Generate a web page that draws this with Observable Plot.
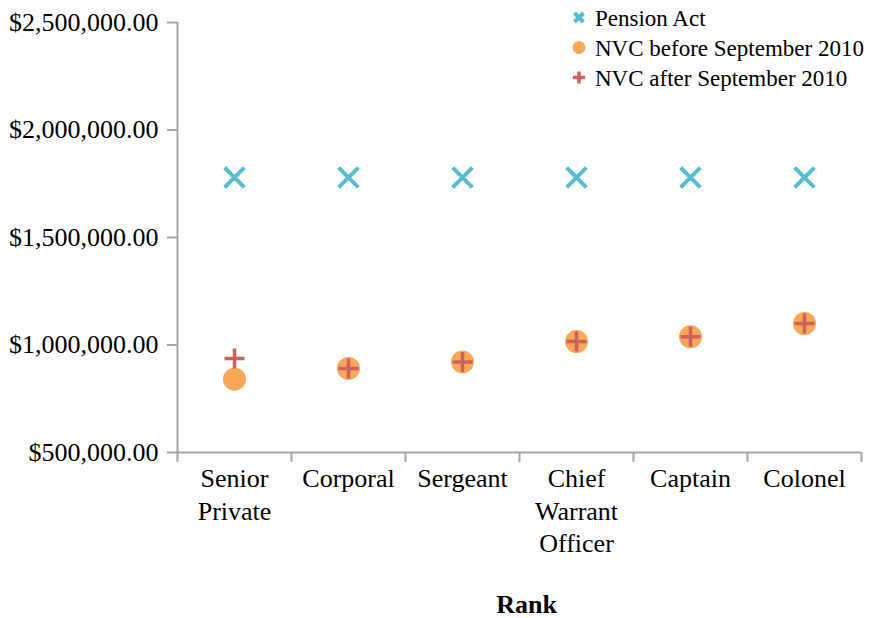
<!DOCTYPE html>
<html><head><meta charset="utf-8">
<script src="https://cdn.jsdelivr.net/npm/d3@7"></script>
<script src="https://cdn.jsdelivr.net/npm/@observablehq/plot@0.6"></script>
<style>
body{margin:0;background:#fff;}
#wrap{position:relative;width:876px;height:618px;font-family:"Liberation Serif","Times New Roman",serif;}
#legend{position:absolute;left:560px;top:0;}
</style></head><body><div id="wrap"></div>
<script>
const ranks = ["Senior Private","Corporal","Sergeant","Chief Warrant Officer","Captain","Colonel"];
const rankLabels = ["Senior\nPrivate","Corporal","Sergeant","Chief\nWarrant\nOfficer","Captain","Colonel"];
const seriesNames = ["Pension Act","NVC before September 2010","NVC after September 2010"];
const pensionAct = [1779000,1779000,1779000,1779000,1779000,1779000];
const nvcBefore = [841000,891000,921000,1016000,1038000,1100000];
const nvcAfter  = [937000,891000,921000,1016000,1038000,1100000];
const yTicks = [500000,1000000,1500000,2000000,2500000];
const xTitle = "Rank";
const colors = ["#57bcd4","#f9a85a","#cc625c"];

const rows = ranks.map((r,i)=>({pos:i+0.5, rank:r, label:rankLabels[i], pension:pensionAct[i], before:nvcBefore[i], after:nvcAfter[i]}));
const bounds = d3.range(ranks.length+1);
const axisColor = "#a6a6a6";
const fmt = d3.format(",.2f");

const plot = Plot.plot({
  width:876, height:618,
  marginLeft:177, marginRight:15, marginTop:22, marginBottom:166,
  style:{fontFamily:"'Liberation Serif','Times New Roman',serif", fontSize:"26px", background:"#fff", color:"#000"},
  x:{domain:[0,ranks.length], axis:null},
  y:{domain:[500000,2500000], axis:null},
  marks:[
    Plot.axisY({ticks:yTicks, tickSize:10, tickPadding:9, tickFormat:d=>"$"+fmt(d), stroke:axisColor, strokeWidth:2, strokeOpacity:1, fontSize:26, label:null}),
    Plot.axisX({ticks:bounds, tickSize:10, tickFormat:()=>"", stroke:axisColor, strokeWidth:2, strokeOpacity:1, label:null}),
    Plot.ruleX([0], {stroke:axisColor, strokeWidth:2}),
    Plot.ruleY([500000], {stroke:axisColor, strokeWidth:2}),
    Plot.text(rows, {x:"pos", text:"label", frameAnchor:"bottom", lineAnchor:"top", dy:12, lineHeight:1.24, fontSize:26, fill:"#000"}),
    Plot.text([xTitle], {frameAnchor:"bottom", lineAnchor:"middle", dy:152, dx:7, fontSize:26, fontWeight:"bold", fill:"#000"}),
    Plot.dot(rows, {x:"pos", y:"pension", symbol:"times", r:9, stroke:colors[0], strokeWidth:4}),
    Plot.dot(rows, {x:"pos", y:"before", r:11.5, fill:colors[1], stroke:null}),
    Plot.dot(rows, {x:"pos", y:"after", symbol:"plus", r:6.5, stroke:colors[2], strokeWidth:3.5})
  ]
});
const wrap = document.getElementById("wrap");
wrap.appendChild(plot);

// legend
const syms = [d3.symbolTimes, d3.symbolCircle, d3.symbolPlus];
const symSizes = [55, 130, 50];
const lg = d3.select(wrap).append("svg").attr("id","legend").attr("width",316).attr("height",100);
seriesNames.forEach((name,i)=>{
  const cy = 17.5 + 30*i;
  const p = lg.append("path").attr("transform",`translate(19,${cy})`).attr("d", d3.symbol(syms[i], symSizes[i])());
  if(i===1) p.attr("fill",colors[i]);
  else p.attr("fill","none").attr("stroke",colors[i]).attr("stroke-width", i===0?4:3.5);
  lg.append("text").attr("x",35).attr("y",cy+8.5).attr("font-size",23)
    .attr("font-family","'Liberation Serif','Times New Roman',serif").attr("fill","#000").text(name);
});
</script></body></html>
